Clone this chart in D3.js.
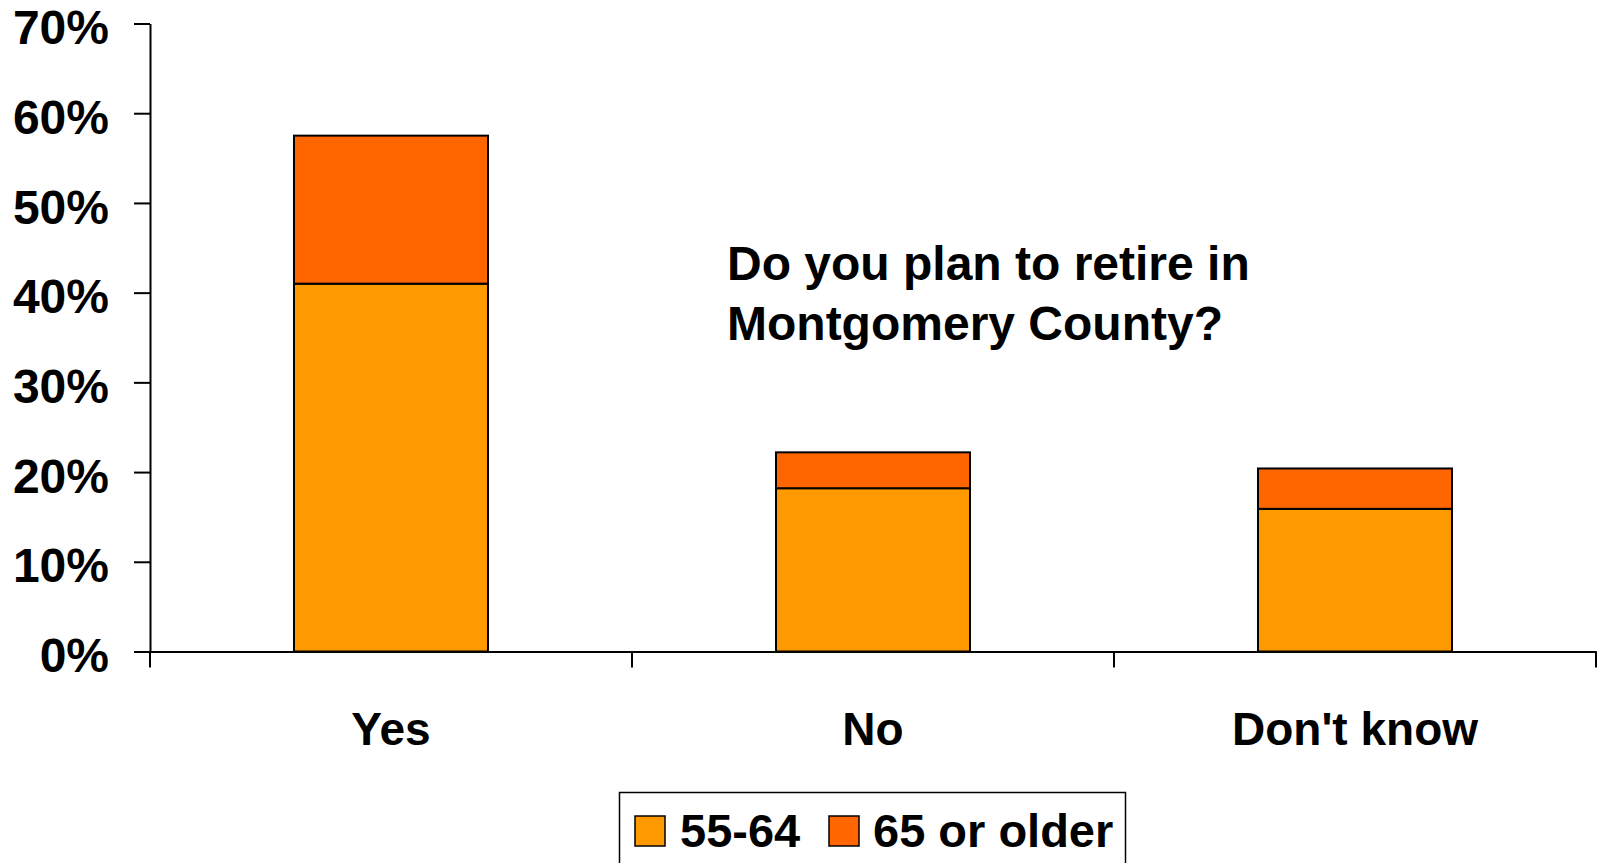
<!DOCTYPE html>
<html>
<head>
<meta charset="utf-8">
<script src="https://cdn.jsdelivr.net/npm/d3@7/dist/d3.min.js"></script>
<style>
html,body{margin:0;padding:0;background:#fff;overflow:hidden;}
text{font-family:"Liberation Sans",Arial,sans-serif;font-weight:bold;fill:#000;}
</style>
</head>
<body>
<svg id="chart" width="1600" height="863"></svg>
<script>
const categories = ["Yes", "No", "Don't know"];
const seriesNames = ["55-64", "65 or older"];
const values5564 = [0.410, 0.182, 0.159];
const values65plus = [0.165, 0.040, 0.045];
const yTicks = [0, 0.1, 0.2, 0.3, 0.4, 0.5, 0.6, 0.7];
const colors = ["#FF9900", "#FF6600"];
const titleLines = ["Do you plan to retire in", "Montgomery County?"];

(function(){
const svg = d3.select("#chart");
const plotLeft = 150, plotRight = 1596, plotTop = 23.5, plotBottom = 651.5;
const fontFam = '"Liberation Sans",Arial,sans-serif';

const y = d3.scaleLinear().domain([0, 0.7]).range([plotBottom, plotTop]);
const p = 0.5975;
const x = d3.scaleBand().domain(categories).range([plotLeft, plotRight]).paddingInner(p).paddingOuter(p/2);

const rows = categories.map((c, i) => ({cat: c, a: values5564[i], b: values65plus[i]}));
const stacked = d3.stack().keys(["a", "b"])(rows);

const g = svg.append("g");
stacked.forEach((layer, li) => {
  g.selectAll(null).data(layer).enter().append("rect")
    .attr("x", d => x(d.data.cat))
    .attr("width", x.bandwidth())
    .attr("y", d => y(d[1]))
    .attr("height", d => y(d[0]) - y(d[1]))
    .attr("fill", colors[li])
    .attr("stroke", "#000")
    .attr("stroke-width", 2);
});

const yAxis = d3.axisLeft(y).tickValues(yTicks).tickFormat(d3.format(".0%"))
  .tickSize(16).tickSizeOuter(0).tickPadding(25);
const ya = svg.append("g").attr("transform", `translate(${plotLeft},0)`).call(yAxis);
ya.select(".domain").attr("stroke", "#000").attr("stroke-width", 2);
ya.selectAll(".tick line").attr("stroke", "#000").attr("stroke-width", 2);
ya.selectAll(".tick text").attr("font-size", 48).attr("dy", "0.42em")
  .style("font-family", fontFam).style("font-weight", "bold").attr("fill", "#000");

const xAxis = d3.axisBottom(x).tickSize(0).tickPadding(93.5).tickSizeOuter(0);
const xa = svg.append("g").attr("transform", `translate(0,${plotBottom})`).call(xAxis);
xa.select(".domain").attr("stroke", "#000").attr("stroke-width", 2);
xa.selectAll(".tick text").attr("font-size", 46).attr("dy", "0")
  .style("font-family", fontFam).style("font-weight", "bold").attr("fill", "#000");
const bounds = d3.range(categories.length + 1).map(i => plotLeft + i * x.step());
xa.selectAll(".bound").data(bounds).enter().append("line")
  .attr("x1", d => d).attr("x2", d => d).attr("y1", 0).attr("y2", 16)
  .attr("stroke", "#000").attr("stroke-width", 2);

svg.append("text").attr("x", 727).attr("y", 280).attr("font-size", 48)
  .selectAll("tspan").data(titleLines).enter().append("tspan")
  .attr("x", 727).attr("dy", (d, i) => i === 0 ? 0 : 60).text(d => d);

const lg = svg.append("g");
lg.append("rect").attr("x", 619.5).attr("y", 792.5).attr("width", 506).attr("height", 90)
  .attr("fill", "#fff").attr("stroke", "#000").attr("stroke-width", 1.5);
const legX = [635, 829];
const legTX = [680, 873];
seriesNames.forEach((n, i) => {
  lg.append("rect").attr("x", legX[i]).attr("y", 816).attr("width", 30).attr("height", 30)
    .attr("fill", colors[i]).attr("stroke", "#000").attr("stroke-width", 1.5);
  lg.append("text").attr("x", legTX[i]).attr("y", 847).attr("font-size", 47).text(n);
});
})();
</script>
</body>
</html>
